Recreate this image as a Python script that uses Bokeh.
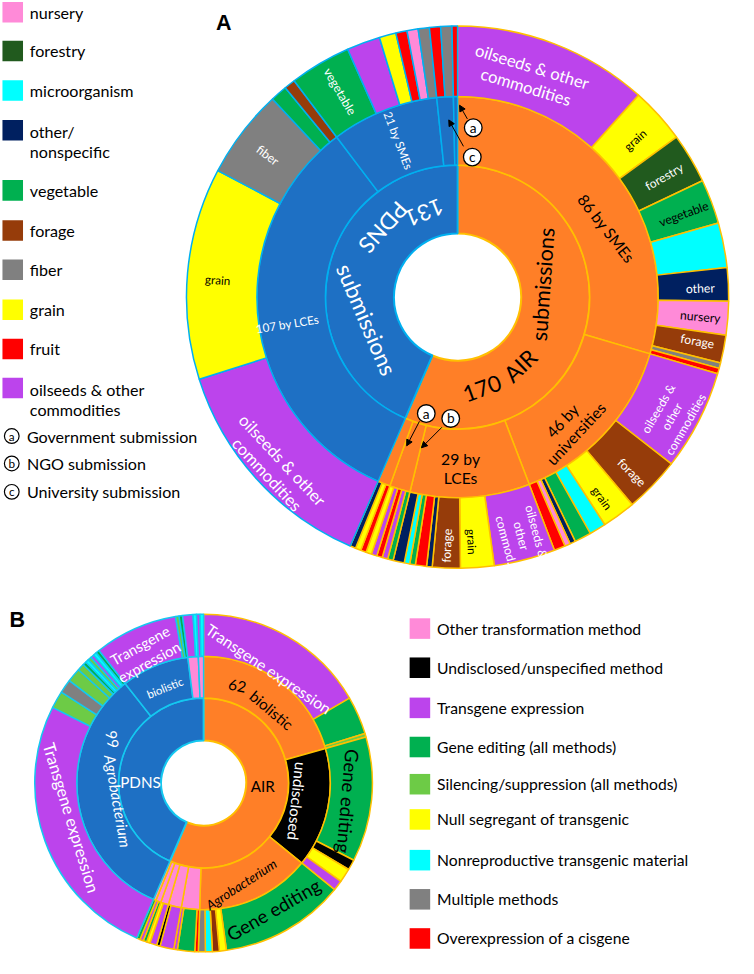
import math
from bokeh.plotting import figure
from bokeh.models import Range1d, Arrow, NormalHead, ColumnDataSource
from bokeh.core.properties import value
from bokeh.embed import file_html
from bokeh.resources import INLINE

# ---------------- DATA ----------------
# Panel A : inner ring = submission type, middle = submitter, outer = commodity
A_TOTAL_NAMES = ["AIR", "PDNS"]
A_TOTAL_VALUES = [170, 131]

A_AIR_SUBMITTERS = ["SMEs", "universities", "LCEs", "NGO", "Government"]
A_AIR_SUBMITTER_VALUES = [89, 44, 29, 5, 3]
A_PDNS_SUBMITTERS = ["LCEs", "SMEs", "University", "Government"]
A_PDNS_SUBMITTER_VALUES = [100, 26, 4, 1]

A_AIR_SME_CATS = ["oilseeds", "grain", "forestry", "vegetable", "microorganism", "other", "nursery", "forage", "fiber", "fruit"]
A_AIR_SME_VALS = [35, 10, 9, 8, 8, 6, 6, 5, 1, 1]
A_AIR_UNI_CATS = ["oilseeds", "forage", "grain", "microorganism", "vegetable", "other", "nursery", "fruit"]
A_AIR_UNI_VALS = [18, 10, 6, 3, 3, 1, 1, 2]
A_AIR_LCE_CATS = ["oilseeds", "grain", "forage", "other", "fruit", "vegetable", "microorganism", "other"]
A_AIR_LCE_VALS = [11, 6, 5, 1, 2, 1, 1, 2]
A_AIR_NGO_CATS = ["vegetable", "oilseeds", "fruit", "oilseeds", "grain"]
A_AIR_NGO_VALS = [1, 1, 1, 1, 1]
A_AIR_GOV_CATS = ["fruit", "grain", "other"]
A_AIR_GOV_VALS = [1, 1, 1]

A_PDNS_LCE_CATS = ["oilseeds", "grain", "fiber", "vegetable", "forage"]
A_PDNS_LCE_VALS = [41, 38, 16, 3, 2]
A_PDNS_SME_CATS = ["vegetable", "oilseeds", "grain", "fruit", "nursery", "fiber"]
A_PDNS_SME_VALS = [11, 6, 3, 2, 2, 2]
A_PDNS_UNI_CATS = ["fruit", "fiber"]
A_PDNS_UNI_VALS = [2, 2]
A_PDNS_GOV_CATS = ["fruit"]
A_PDNS_GOV_VALS = [1]

A_LEGEND_NAMES = ["nursery", "forestry", "microorganism", "other/\nnonspecific", "vegetable",
                  "forage", "fiber", "grain", "fruit", "oilseeds & other\ncommodities"]
A_LEGEND_KEYS = ["nursery", "forestry", "microorganism", "other", "vegetable",
                 "forage", "fiber", "grain", "fruit", "oilseeds"]
A_SUBMITTER_LETTERS = ["a", "b", "c"]
A_SUBMITTER_TEXT = ["Government submission", "NGO submission", "University submission"]

# Panel B : inner ring = submission type, middle = transformation method, outer = outcome
B_TOTAL_VALUES = [170, 131]
B_AIR_METHODS = ["biolistic", "undisclosed", "Agrobacterium", "other", "other", "other", "other", "other"]
B_AIR_METHOD_VALUES = [62, 46, 44, 7, 5, 3, 2, 1]
B_PDNS_METHODS = ["Agrobacterium", "biolistic", "other", "other"]
B_PDNS_METHOD_VALUES = [99, 26, 4, 2]

B_AIR_BIO_CATS = ["transgene", "editing", "silencing"]
B_AIR_BIO_VALS = [50, 11, 1]
B_AIR_UND_CATS = ["editing", "undisclosed", "null", "transgene"]
B_AIR_UND_VALS = [36, 3, 4, 3]
B_AIR_AGRO_CATS = ["editing", "null", "cisgene_dark", "nonrepro", "multiple"]
B_AIR_AGRO_VALS = [36, 2, 2, 2, 2]
B_AIR_OTH1_CATS = ["cisgene", "editing", "transgene"]
B_AIR_OTH1_VALS = [1, 5, 1]
B_AIR_OTH2_CATS = ["transgene", "undisclosed"]
B_AIR_OTH2_VALS = [4, 1]
B_AIR_OTH3_CATS = ["transgene", "null"]
B_AIR_OTH3_VALS = [2, 1]
B_AIR_OTH4_CATS = ["editing", "transgene"]
B_AIR_OTH4_VALS = [1, 1]
B_AIR_OTH5_CATS = ["editing"]
B_AIR_OTH5_VALS = [1]

B_PDNS_AGRO_CATS = ["transgene", "silencing", "multiple", "silencing", "silencing", "editing",
                    "nonrepro", "silencing", "transgene", "nonrepro", "editing"]
B_PDNS_AGRO_VALS = [78, 5, 4, 4, 2, 1, 1, 1, 1, 1, 1]
B_PDNS_BIO_CATS = ["transgene", "silencing", "editing"]
B_PDNS_BIO_VALS = [24, 1, 1]
B_PDNS_OTH1_CATS = ["transgene", "nonrepro"]
B_PDNS_OTH1_VALS = [3, 1]
B_PDNS_OTH2_CATS = ["transgene", "nonrepro"]
B_PDNS_OTH2_VALS = [1, 1]

B_LEGEND_NAMES = ["Other transformation method", "Undisclosed/unspecified method", "Transgene expression",
                  "Gene editing (all methods)", "Silencing/suppression (all methods)",
                  "Null segregant of transgenic", "Nonreproductive transgenic material",
                  "Multiple methods", "Overexpression of a cisgene"]
B_LEGEND_KEYS = ["othermethod", "undisclosed", "transgene", "editing", "silencing", "null",
                 "nonrepro", "multiple", "cisgene"]

# ---------------- STYLE ----------------
ORANGE = "#FF7F27"
BLUE = "#1E70C4"
GOLD = "#FFC000"
SKY = "#00B0F0"
SKY_B = "#14C8F0"
COLORS = {
    "nursery": "#FF8AD8", "forestry": "#215A1E", "microorganism": "#00FFFF", "other": "#002060",
    "vegetable": "#00B050", "forage": "#963C0A", "fiber": "#808080", "grain": "#FFFF00",
    "fruit": "#FF0000", "oilseeds": "#BC44EC",
    "othermethod": "#FF8AD8", "undisclosed": "#000000", "transgene": "#BC44EC", "editing": "#00B050",
    "silencing": "#6DCB46", "null": "#FFFF00", "nonrepro": "#00FFFF", "multiple": "#808080",
    "cisgene": "#FF0000", "cisgene_dark": "#8C300A",
}
FONT = "Lato"

W, H = 738, 958
S = W / 754.0
HH = H / S
UNIT = 360.0 / sum(A_TOTAL_VALUES)


def Y(y):
    return HH - y


p = figure(width=W, height=H, x_range=Range1d(0, 754), y_range=Range1d(0, HH),
           output_backend="svg", toolbar_location=None, min_border=0,
           x_axis_type=None, y_axis_type=None)
p.outline_line_color = None
p.background_fill_color = "white"


def add_ring(cx, cy, r0, r1, start, vals, colors, line_color, lw=1.5):
    d = dict(x=[], y=[], sa=[], ea=[], fc=[], lc=[])
    t = start
    for v, c in zip(vals, colors):
        t2 = t + v * UNIT
        d["x"].append(cx)
        d["y"].append(Y(cy))
        d["sa"].append(math.radians(90 - t2))
        d["ea"].append(math.radians(90 - t))
        d["fc"].append(c)
        d["lc"].append(line_color)
        t = t2
    p.annular_wedge(x="x", y="y", inner_radius=r0, outer_radius=r1, start_angle="sa",
                    end_angle="ea", fill_color="fc", line_color="lc", line_width=lw,
                    source=ColumnDataSource(d))
    return t


def label(x, y, text, rot=0, color="black", size=15, style="normal", align="center", font=FONT):
    p.text(x=[x], y=[Y(y)], text=[text], angle=math.radians(rot), text_color=color,
           text_font=value(font), text_font_size=f"{size * S:.1f}px", text_font_style=style,
           text_align=align, text_baseline="middle", text_line_height=1.05)


# ---------------- PANEL A ----------------
ACX, ACY = 467, 303
AR = [65, 135, 205, 277]

t = add_ring(ACX, ACY, AR[0], AR[1], 0, [A_TOTAL_VALUES[0]], [ORANGE], GOLD, 2)
add_ring(ACX, ACY, AR[0], AR[1], t, [A_TOTAL_VALUES[1]], [BLUE], SKY, 2)

t = add_ring(ACX, ACY, AR[1], AR[2], 0, A_AIR_SUBMITTER_VALUES, [ORANGE] * 5, GOLD, 1.5)
add_ring(ACX, ACY, AR[1], AR[2], t, A_PDNS_SUBMITTER_VALUES, [BLUE] * 4, SKY, 1.5)

t = 0
for cats, vals in [(A_AIR_SME_CATS, A_AIR_SME_VALS), (A_AIR_UNI_CATS, A_AIR_UNI_VALS),
                   (A_AIR_LCE_CATS, A_AIR_LCE_VALS), (A_AIR_NGO_CATS, A_AIR_NGO_VALS),
                   (A_AIR_GOV_CATS, A_AIR_GOV_VALS)]:
    t = add_ring(ACX, ACY, AR[2], AR[3], t, vals, [COLORS[c] for c in cats], GOLD, 1.5)
for cats, vals in [(A_PDNS_LCE_CATS, A_PDNS_LCE_VALS), (A_PDNS_SME_CATS, A_PDNS_SME_VALS),
                   (A_PDNS_UNI_CATS, A_PDNS_UNI_VALS), (A_PDNS_GOV_CATS, A_PDNS_GOV_VALS)]:
    t = add_ring(ACX, ACY, AR[2], AR[3], t, vals, [COLORS[c] for c in cats], SKY, 1.5)

# inner ring labels
label(492, 396, "170", 20, "black", 23)
label(531, 373, "AIR", 44, "black", 23)
label(554, 290, "submissions", 86, "black", 22)
label(433, 217, "131", -158, "white", 23)
label(391, 232, "PDNS", -132, "white", 23)
label(374, 326, "submissions", -67, "white", 23)
# middle ring labels
label(619, 233, "86 by SMEs", -52, "black", 16)
label(581, 436, "46 by\nuniversities", 47, "black", 16)
label(470, 478, "29 by\nLCEs", 0, "black", 16)
label(293, 330, "107 by LCEs", 9, "white", 12)
label(407, 143, "21 by SMEs", -69, "white", 12)
# outer ring labels
label(540, 78, "oilseeds & other\ncommodities", -17, "white", 17)
label(648, 142, "grain", 42, "black", 12)
label(678, 180, "forestry", 30, "white", 12.5)
label(698, 218, "vegetable", 20, "black", 12.5)
label(715, 294, "other", 2, "white", 12.5)
label(715, 323, "nursery", -5, "black", 12.5)
label(712, 348, "forage", -10, "white", 12.5)
label(686, 425, "oilseeds &\nother\ncommodities", 60, "white", 12.5)
label(645, 482, "forage", -45, "white", 12.5)
label(615, 508, "grain", -54, "black", 12)
label(532, 547, "oilseeds &\nother\ncommod.", -75, "white", 12.5)
label(482, 553, "grain", -87, "black", 12)
label(456, 557, "forage", 88, "white", 12.5)
label(280, 477, "oilseeds & other\ncommodities", -47, "white", 17)
label(222, 285, "grain", -4, "black", 12)
label(273, 158, "fiber", -37, "white", 12.5)
label(347, 93, "vegetable", -60, "white", 12.5)

# annotation arrows with circled letters
for (cxl, cyl, letter, xs, ys, xe, ye) in [
        (483, 130, "a", 477, 121, 469, 107),
        (482, 160, "c", 473, 149, 458, 122),
        (435, 422, "a", 428, 430, 415, 455),
        (460, 427, "b", 451, 436, 430, 457)]:
    p.add_layout(Arrow(end=NormalHead(size=6, fill_color="black", line_color="black", line_width=1),
                       x_start=xs, y_start=Y(ys), x_end=xe, y_end=Y(ye),
                       line_color="black", line_width=1))
    p.circle(x=[cxl], y=[Y(cyl)], radius=9, fill_color="white", line_color="black", line_width=1.3)
    label(cxl, cyl - 0.5, letter, 0, "black", 14)

label(228, 23, "A", 0, "black", 22, "bold", font="Liberation Sans")

# legend A
A_LEG_Y = [12, 51.5, 92, 132.5, 194, 235, 275, 316, 356, 396]
A_TXT_Y = [12, 51.5, 92, 144, 194, 235, 275, 316, 356, 407.5]
for name, key, ys, yt in zip(A_LEGEND_NAMES, A_LEGEND_KEYS, A_LEG_Y, A_TXT_Y):
    p.rect(x=[12.5], y=[Y(ys)], width=21, height=21, fill_color=COLORS[key], line_color=None)
    label(30, yt, name, 0, "black", 16.5, align="left")
for (yy, letter, txt) in zip([445, 473, 502], A_SUBMITTER_LETTERS, A_SUBMITTER_TEXT):
    p.circle(x=[11.5], y=[Y(yy)], radius=7.5, fill_color="white", line_color="black", line_width=1.2)
    label(11.5, yy - 0.5, letter, 0, "black", 12)
    label(27, yy, txt, 0, "black", 16.5, align="left")

# ---------------- PANEL B ----------------
BCX, BCY = 207.5, 799.5
BR = [43.5, 87, 129.5, 172.5]

t = add_ring(BCX, BCY, BR[0], BR[1], 0, [B_TOTAL_VALUES[0]], [ORANGE], GOLD, 2)
add_ring(BCX, BCY, BR[0], BR[1], t, [B_TOTAL_VALUES[1]], [BLUE], SKY_B, 2)

air_m_cols = [{"biolistic": ORANGE, "Agrobacterium": ORANGE, "undisclosed": COLORS["undisclosed"],
               "other": COLORS["othermethod"]}[m] for m in B_AIR_METHODS]
pdns_m_cols = [{"biolistic": BLUE, "Agrobacterium": BLUE, "other": COLORS["othermethod"]}[m]
               for m in B_PDNS_METHODS]
t = add_ring(BCX, BCY, BR[1], BR[2], 0, B_AIR_METHOD_VALUES, air_m_cols, GOLD, 1.5)
add_ring(BCX, BCY, BR[1], BR[2], t, B_PDNS_METHOD_VALUES, pdns_m_cols, SKY_B, 1.5)

t = 0
for cats, vals in [(B_AIR_BIO_CATS, B_AIR_BIO_VALS), (B_AIR_UND_CATS, B_AIR_UND_VALS),
                   (B_AIR_AGRO_CATS, B_AIR_AGRO_VALS), (B_AIR_OTH1_CATS, B_AIR_OTH1_VALS),
                   (B_AIR_OTH2_CATS, B_AIR_OTH2_VALS), (B_AIR_OTH3_CATS, B_AIR_OTH3_VALS),
                   (B_AIR_OTH4_CATS, B_AIR_OTH4_VALS), (B_AIR_OTH5_CATS, B_AIR_OTH5_VALS)]:
    t = add_ring(BCX, BCY, BR[2], BR[3], t, vals, [COLORS[c] for c in cats], GOLD, 1.5)
for cats, vals in [(B_PDNS_AGRO_CATS, B_PDNS_AGRO_VALS), (B_PDNS_BIO_CATS, B_PDNS_BIO_VALS),
                   (B_PDNS_OTH1_CATS, B_PDNS_OTH1_VALS), (B_PDNS_OTH2_CATS, B_PDNS_OTH2_VALS)]:
    t = add_ring(BCX, BCY, BR[2], BR[3], t, vals, [COLORS[c] for c in cats], SKY_B, 1.5)

label(143, 798, "PDNS", 0, "white", 15.5)
label(268, 803, "AIR", 0, "black", 15.5)
label(114, 755, "99", -80, "white", 15.5)
label(120, 818, "Agrobacterium", -80, "white", 15.5, "italic")
label(168, 702, "biolistic", 22, "white", 11.5)
label(242, 700, "62", -12, "black", 15.5)
label(277, 725, "biolistic", -40, "black", 15.5)
label(303, 818, "undisclosed", -96, "white", 15.5)
label(246, 903, "Agrobacterium", 33, "black", 13.5, "italic")
label(279, 929, "Gene editing", 30, "black", 19)
label(355, 818, "Gene editing", -95, "black", 19)
label(274, 683, "Transgene expression", -34, "white", 16)
label(72, 835, "Transgene expression", -73, "white", 17)
label(147, 667, "Transgene\nexpression", 29, "white", 15)

label(17, 633, "B", 0, "black", 22, "bold", font="Liberation Sans")

# legend B
B_LEG_Y = [641.7, 681.7, 722.7, 762.7, 800.7, 836.7, 878.3, 918.3, 958.3]
for name, key, yy in zip(B_LEGEND_NAMES, B_LEGEND_KEYS, B_LEG_Y):
    p.rect(x=[428.5], y=[Y(yy)], width=21, height=21, fill_color=COLORS[key], line_color=None)
    label(446, yy, name, 0, "black", 16, align="left")

open("out.html", "w").write(file_html(p, INLINE))
